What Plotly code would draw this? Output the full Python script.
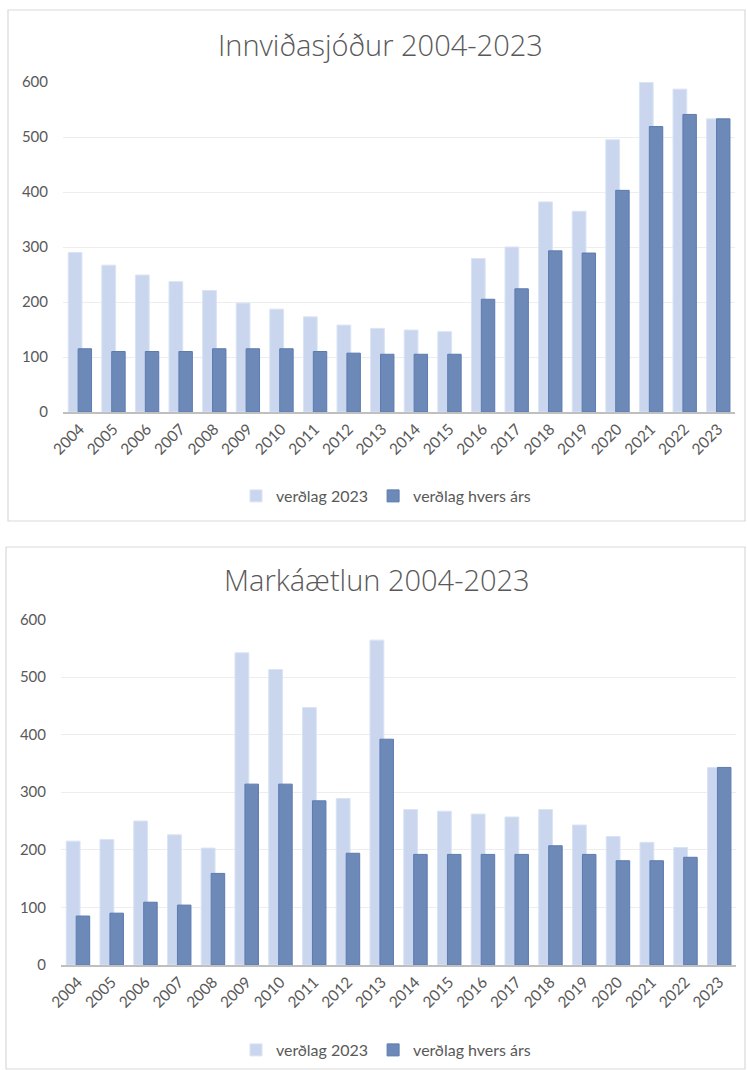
import plotly.graph_objects as go

W, H = 747, 1070

years = [str(y) for y in range(2004, 2024)]

# Innviðasjóður
innvid_2023 = [290, 267, 249, 237, 221, 198, 187, 173, 158, 152, 149, 146, 279, 300, 382, 365, 495, 599, 587, 533]
innvid_hvers = [115, 110, 110, 110, 115, 115, 115, 110, 107, 105, 105, 105, 205, 224, 293, 289, 403, 519, 541, 533]

# Markáætlun
mark_2023 = [215, 218, 250, 226, 203, 542, 513, 447, 289, 564, 270, 267, 262, 257, 270, 243, 223, 213, 204, 343]
mark_hvers = [85, 90, 109, 104, 159, 314, 314, 285, 194, 392, 192, 192, 192, 192, 207, 192, 181, 181, 187, 343]

titles = ["Innviðasjóður 2004-2023", "Markáætlun 2004-2023"]
series_names = ["verðlag 2023", "verðlag hvers árs"]
y_ticks = [0, 100, 200, 300, 400, 500, 600]

LIGHT = "rgb(201,214,238)"
LIGHT_EDGE = "rgb(218,228,245)"
DARK = "rgb(108,137,184)"
DARK_EDGE = "rgb(92,123,176)"
TXT = "#595959"


def px(x):
    return x / W


def py(y):
    return 1 - y / H


fig = go.Figure()

charts = [
    dict(light=innvid_2023, dark=innvid_hvers, xa="x", ya="y", legend="legend",
         xdom=(63, 735), ydom=(412, 82), box=(8, 10, 745, 521), title_y=45, legend_y=496),
    dict(light=mark_2023, dark=mark_hvers, xa="x2", ya="y2", legend="legend2",
         xdom=(61, 736), ydom=(965, 619.4), box=(6, 547, 745, 1069), title_y=579, legend_y=1050),
]

shapes = []
annotations = []
for i, c in enumerate(charts):
    fig.add_trace(go.Bar(
        x=years, y=c["light"], name=series_names[0], xaxis=c["xa"], yaxis=c["ya"],
        width=0.41, offset=-0.345,
        marker=dict(color=LIGHT, line=dict(color=LIGHT_EDGE, width=1)),
        legend=c["legend"], hoverinfo="x+y+name",
    ))
    fig.add_trace(go.Bar(
        x=years, y=c["dark"], name=series_names[1], xaxis=c["xa"], yaxis=c["ya"],
        width=0.40, offset=-0.05,
        marker=dict(color=DARK, line=dict(color=DARK_EDGE, width=1)),
        legend=c["legend"], hoverinfo="x+y+name",
    ))
    x0, y0, x1, y1 = c["box"]
    shapes.append(dict(type="rect", xref="paper", yref="paper",
                       x0=px(x0), x1=px(x1), y0=py(y0), y1=py(y1),
                       line=dict(color="#D9D9D9", width=1.2), layer="below"))
    annotations.append(dict(text=titles[i], xref="paper", yref="paper",
                            x=px(380 if i == 0 else 377), y=py(c["title_y"]),
                            xanchor="center", yanchor="middle", showarrow=False,
                            font=dict(family="Open Sans", size=29, color=TXT, weight=300)))

axis_common_x = dict(
    type="category", range=[-0.5, 19.5], tickangle=-45, automargin=False,
    showline=True, linecolor="#BFBFBF", linewidth=2, ticks="",
    showgrid=False, tickfont=dict(family="Lato", size=15.5, color=TXT),
)
axis_common_y = dict(
    range=[0, 600], tickvals=y_ticks, showgrid=True, gridcolor="#EDEDED", gridwidth=1,
    zeroline=False, showline=False, ticks="", ticklabelstandoff=14, automargin=False,
    tickfont=dict(family="Lato", size=15, color=TXT),
)

layout = dict(
    width=W, height=H, margin=dict(l=0, r=0, t=0, b=0, pad=0, autoexpand=False),
    paper_bgcolor="white", plot_bgcolor="white",
    barmode="overlay", showlegend=True,
    shapes=shapes, annotations=annotations,
    font=dict(family="Lato", color=TXT),
)

for i, c in enumerate(charts):
    sx = "" if i == 0 else "2"
    layout["xaxis" + sx] = dict(axis_common_x, domain=[px(c["xdom"][0]), px(c["xdom"][1])],
                               anchor="y" + sx)
    layout["yaxis" + sx] = dict(axis_common_y, domain=[py(c["ydom"][0]), py(c["ydom"][1])],
                               anchor="x" + sx)
    layout[c["legend"]] = dict(orientation="h", x=px(386), y=py(c["legend_y"]),
                               xanchor="center", yanchor="middle",
                               font=dict(family="Lato", size=16, color=TXT),
                               bgcolor="rgba(0,0,0,0)", itemwidth=30, tracegroupgap=0)

fig.update_layout(**layout)
fig.write_html(
    "out.html",
    config={"displayModeBar": False},
    post_script="document.body.style.margin='0';document.body.style.padding='0';"
                "document.documentElement.style.overflow='hidden';",
)
